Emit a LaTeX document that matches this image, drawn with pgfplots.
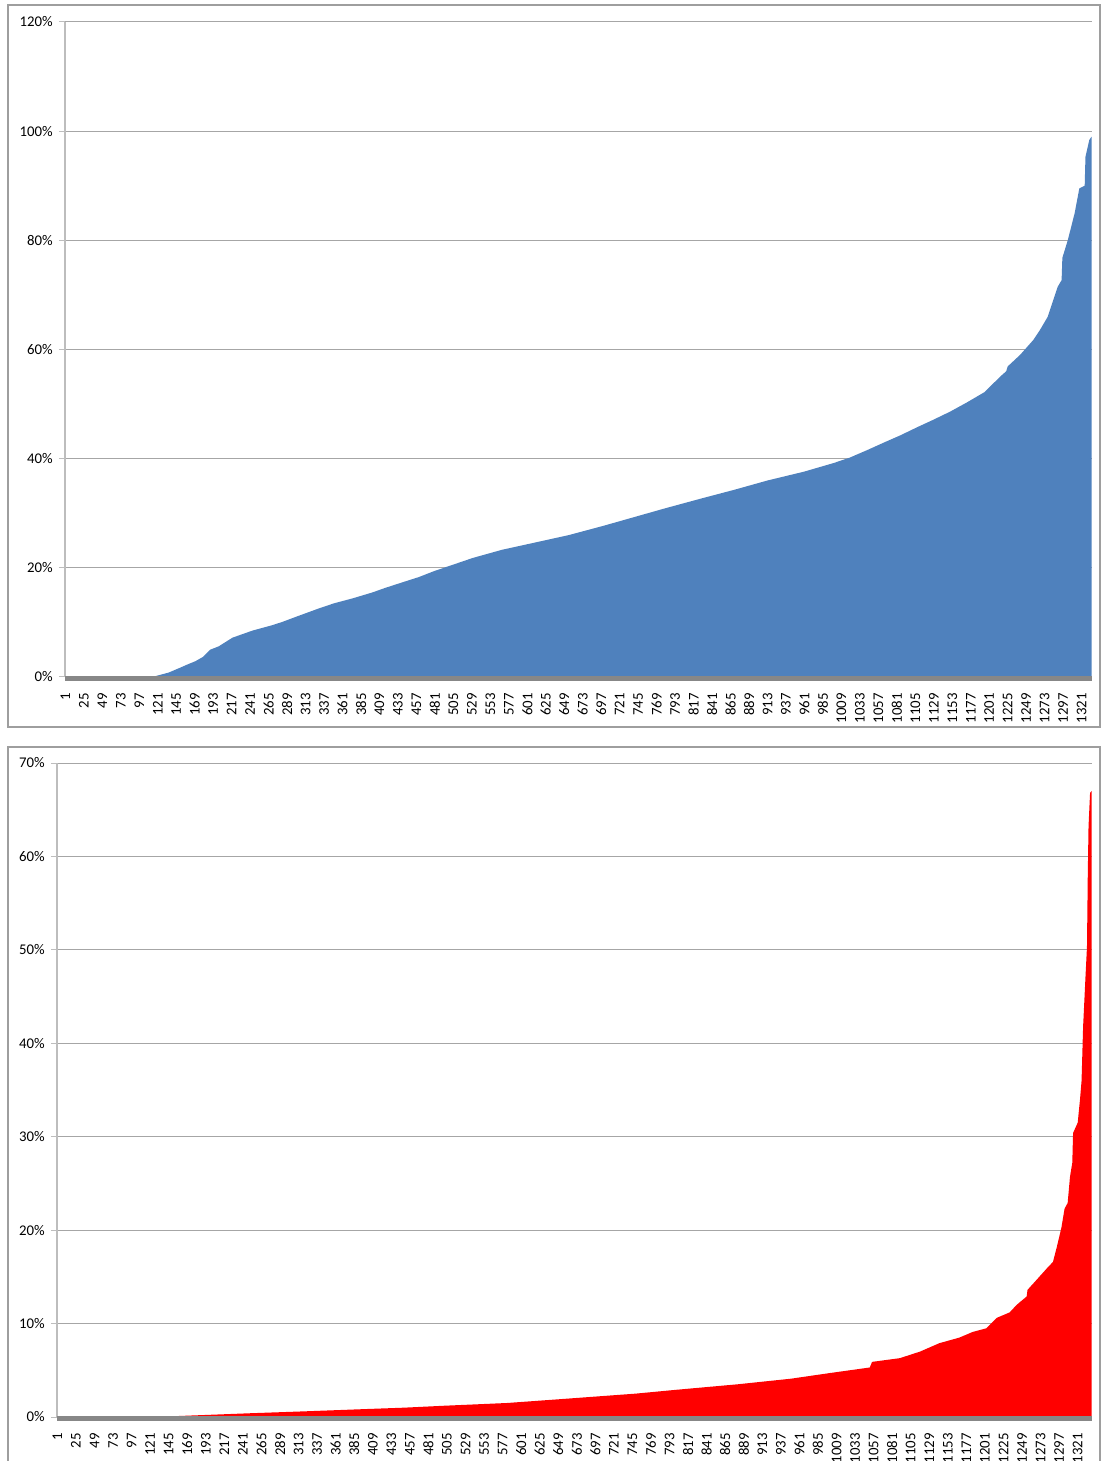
\documentclass[border=0pt]{standalone}
\usepackage{fontspec}
\setmainfont{Carlito}
\usepackage{pgfplots}
\pgfplotsset{compat=1.18}

\definecolor{exblue}{HTML}{4F81BD}
\definecolor{gridgray}{HTML}{A6A6A6}
\definecolor{axgray}{HTML}{BDBDBD}
\definecolor{bargray}{HTML}{878787}
\definecolor{boxgray}{HTML}{9E9E9E}

\pgfplotsset{
  xlchart/.style={
    scale only axis, clip=false, anchor=south west,
    axis x line*=bottom, axis y line*=left,
    axis line style={axgray, line width=0.6pt},
    ymajorgrids, grid style={gridgray, line width=0.5pt},
    xtick={1,25,...,1321},
    xtick style={draw=none},
    ytick style={axgray, line width=0.5pt},
    tick align=outside, major tick length=3pt,
    xticklabel style={yshift=-5pt, rotate=90, anchor=east, inner sep=0pt,
      font=\fontsize{7.4}{8}\selectfont},
    yticklabel style={inner sep=0pt, xshift=-3pt, font=\fontsize{7.4}{8}\selectfont},
    /pgf/number format/assume math mode=true,
    /pgf/number format/set thousands separator={},
  }
}

\begin{document}
\begin{tikzpicture}
\path[use as bounding box] (0,0) rectangle (551pt,730.5pt);
\draw[boxgray, line width=0.6pt] (4pt,728pt) rectangle (550pt,367pt);
\draw[boxgray, line width=0.6pt] (4pt,357pt) rectangle (550pt,-5pt);

% top chart
\begin{axis}[xlchart, at={(32.5pt,392pt)}, width=513.5pt, height=327.5pt,
  xmin=0.5, xmax=1334.5, ymin=0, ymax=120,
  ytick={0,20,...,120}, yticklabels={0\%,20\%,40\%,60\%,80\%,100\%,120\%}]
\addplot[fill=exblue, draw=none] coordinates {
(1,0) (115,0) (119,0.2) (135,0.8) (150,1.7) (158,2.2) (170,2.9) (180,3.7)
(189,5.0) (200,5.6) (218,7.2) (244,8.5) (270,9.5) (283,10.1) (300,11.0)
(331,12.6) (350,13.5) (374,14.4) (400,15.5) (416,16.3) (440,17.4) (460,18.3)
(480,19.4) (503,20.5) (530,21.8) (568,23.3) (610,24.6) (655,26.0) (700,27.7)
(740,29.3) (780,30.9) (827,32.7) (870,34.3) (913,36.0) (960,37.6) (999,39.2)
(1020,40.2) (1043,41.6) (1065,43.0) (1086,44.3) (1108,45.8) (1128,47.1)
(1150,48.6) (1172,50.3) (1195,52.2) (1215,55.0) (1223,56.0) (1225,56.9)
(1241,59.0) (1258,61.7) (1267,63.6) (1277,66.0) (1290,71.5) (1295,72.7)
(1296,76.8) (1303,80.0) (1312,85.0) (1318,89.5) (1325,90.0) (1326,95.3)
(1331,98.4) (1334,99.0)
} \closedcycle;
\addplot[bargray, line width=2.5pt] coordinates {(0.5,-0.27) (1334.5,-0.27)};
\end{axis}

% bottom chart
\begin{axis}[xlchart, at={(28.5pt,22pt)}, width=517.5pt, height=327pt,
  xmin=0.5, xmax=1339.5, ymin=0, ymax=70,
  ytick={0,10,...,70}, yticklabels={0\%,10\%,20\%,30\%,40\%,50\%,60\%,70\%}]
\addplot[fill=red, draw=none] coordinates {
(1,0) (125,0) (187,0.2) (250,0.4) (319,0.6) (400,0.85) (450,1.0) (500,1.2)
(583,1.5) (650,1.9) (749,2.5) (800,2.9) (881,3.5) (950,4.1) (1000,4.7)
(1052,5.3) (1055,5.9) (1091,6.3) (1117,7.0) (1142,7.9) (1168,8.5) (1185,9.1)
(1203,9.5) (1216,10.6) (1233,11.2) (1242,12.0) (1255,12.9) (1256,13.6)
(1268,14.7) (1281,15.9) (1289,16.6) (1294,18.2) (1300,20.3) (1304,22.3)
(1308,22.9) (1311,25.7) (1314,27.2) (1315,30.4) (1321,31.5) (1324,34.0)
(1326,36.0) (1328,41.8) (1331,47.0) (1333,50.3) (1334,57.8) (1335,63.2)
(1337,66.8) (1339,67.0)
} \closedcycle;
\addplot[bargray, line width=2.5pt] coordinates {(0.5,-0.16) (1339.5,-0.16)};
\end{axis}
\end{tikzpicture}
\end{document}
